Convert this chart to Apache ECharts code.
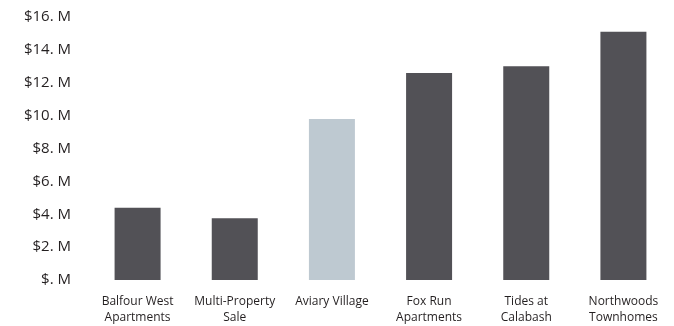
<!DOCTYPE html>
<html>
<head>
<meta charset="utf-8">
<script src="https://cdn.jsdelivr.net/npm/echarts@6/dist/echarts.min.js"></script>
<style>
  html, body { margin: 0; padding: 0; background: #fff; }
  #Chart { width: 674px; height: 326px; }
</style>
</head>
<body>
<div id="Chart"></div>
<script>
var categories = ['Balfour West\nApartments', 'Multi-Property\nSale', 'Aviary Village', 'Fox Run\nApartments', 'Tides at\nCalabash', 'Northwoods\nTownhomes'];
var values = [4.4, 3.75, 9.8, 12.6, 13.0, 15.1];
var highlighted = [false, false, true, false, false, false];

var Chart = echarts.init(document.getElementById('Chart'));

var barData = values.map(function (v, i) {
    return {
        value: v,
        itemStyle: { color: highlighted[i] ? '#bec9d1' : '#525156' }
    };
});

var option = {
    animation: false,
    grid: {
        left: 89,
        right: 2,
        top: 17,
        bottom: 45
    },
    xAxis: {
        type: 'category',
        data: categories,
        axisLine: { show: false },
        axisTick: { show: false },
        axisLabel: {
            interval: 0,
            margin: 14,
            fontFamily: 'Open Sans',
            fontSize: 12,
            lineHeight: 16,
            color: '#231f20'
        }
    },
    yAxis: {
        type: 'value',
        min: 0,
        max: 16,
        interval: 2,
        splitLine: { show: false },
        axisLine: { show: false },
        axisTick: { show: false },
        axisLabel: {
            margin: 18,
            fontFamily: 'Open Sans',
            fontSize: 15,
            color: '#231f20',
            formatter: function (v) {
                return '$' + (v === 0 ? '' : v) + '. M';
            }
        }
    },
    series: [{
        type: 'bar',
        data: barData,
        barWidth: 46
    }]
};

Chart.setOption(option);
</script>
</body>
</html>
